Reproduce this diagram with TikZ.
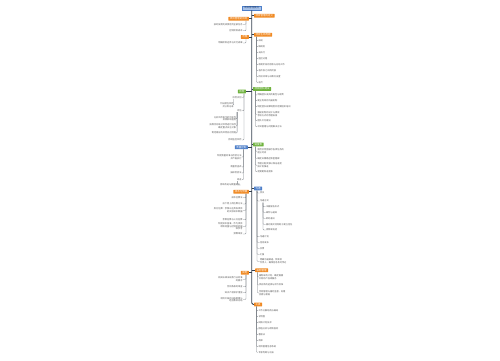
\documentclass[tikz,border=0pt]{standalone}
\usepackage{fontspec}
\setmainfont{Noto Sans CJK SC}
\usepackage{xcolor}
\usepackage{tikz}
\definecolor{mmorange}{HTML}{F08A24}
\definecolor{mmgreen}{HTML}{70B33F}
\definecolor{mmblue}{HTML}{4E7FC9}
\definecolor{mmtitle}{HTML}{A8C3EA}
\definecolor{mmink}{HTML}{23406E}
\definecolor{mmstem}{HTML}{34404F}
\definecolor{mmtwig}{HTML}{7A7F86}
\definecolor{mmleaf}{HTML}{555555}
\newcommand\boxfont{\fontsize{2.5}{3}\selectfont}
\newcommand\leaffont{\fontsize{2.2}{2.5}\selectfont}

\begin{document}
\begin{tikzpicture}[x=1pt, y=-1pt,
  every node/.style={font=\leaffont, inner sep=0.3pt},
  topic/.style={fill=mmtitle, draw=mmblue, line width=0.3pt, text=mmink, font=\boxfont,
    minimum width=19pt, minimum height=4.6pt, inner sep=0.4pt},
  obox/.style={fill=mmorange, text=white, font=\boxfont, minimum height=3.8pt,
    inner xsep=1.5pt, inner ysep=0.4pt, rounded corners=0.4pt},
  gbox/.style={obox, fill=mmgreen},
  bbox/.style={obox, fill=mmblue},
  rleaf/.style={anchor=west, align=left, text=mmleaf},
  lleaf/.style={anchor=east, align=right, text=mmleaf},
  trunkline/.style={draw=mmstem, line width=0.9pt, rounded corners=1.5pt},
  limb/.style={draw=mmstem, line width=0.6pt},
  twig/.style={draw=mmtwig, line width=0.35pt, rounded corners=0.8pt}]
  \useasboundingbox (0,0) rectangle (500,360);

  % central topic and the main branches
  \node[topic] (top) at (251.7,8) {项目管理要点};
  \node[obox, anchor=west] (R1) at (254,15.7) {项目管理的定义};
  \node[obox, anchor=east] (L1) at (249,18.7) {项目管理的目标};
  \node[obox, anchor=east] (L2) at (249,37) {范围};
  \node[obox, anchor=west] (R2) at (254,34.7) {项目生命周期};
  \node[gbox, anchor=west] (R3) at (253,89) {项目团队建设};
  \node[gbox, anchor=east] (L3) at (246,91.5) {风险};
  \node[gbox, anchor=west] (R4) at (253,144.5) {进度表};
  \node[bbox, anchor=east] (L4) at (248,147.3) {质量控制};
  \node[bbox, anchor=west] (R5) at (254,188.5) {沟通};
  \node[obox, anchor=east] (L5) at (249,191.7) {成本与预算};
  \node[obox, anchor=west] (R6) at (255,270.3) {采购管理};
  \node[obox, anchor=east] (L6) at (249,272.7) {其他};
  \node[obox, anchor=west] (R7) at (254,304.5) {工具};

  \draw[trunkline] (top.south) |- (R7.west);
  \foreach \b in {R1,R2,R3,R4,R5,R6}
    \draw[limb] (top.south |- \b.west) -- (\b.west);
  \foreach \b in {L1,L2,L3,L4,L5,L6}
    \draw[limb] (top.south |- \b.east) -- (\b.east);

  % left side leaves
  \foreach \y/\t [count=\k] in {24.3/按时按质完成预定的全部任务, 30.7/控制项目成本}{
    \node[lleaf] (L1-\k) at (243,\y) {\t};
    \draw[twig] ([xshift=-3pt]L1.south east) |- (L1-\k.east);
  }
  \node[lleaf] (L2-1) at (243,43) {明确项目边界与交付成果};
  \draw[twig] ([xshift=-3pt]L2.south east) |- (L2-1.east);

  \foreach \y/\t [count=\k] in {97.3/风险识别, 110.7/评估, 140/持续监控风险}{
    \node[lleaf] (L3-\k) at (242,\y) {\t};
    \draw[twig] ([xshift=-2pt]L3.south east) |- (L3-\k.east);
  }
  \node[lleaf] (L3-1-1) at (234,105) {列出潜在风险\\并分类记录};
  \draw[twig] ([xshift=1pt]L3-1.south west) |- (L3-1-1.east);
  \foreach \y/\t [count=\k] in {118.8/{分析风险发生的可能性\\及其影响程度},
      126/{按照优先级对风险进行排序\\确定重点关注对象}, 133/制定相应的风险应对措施}{
    \node[lleaf] (L3-2-\k) at (236.5,\y) {\t};
    \draw[twig] ([xshift=0.5pt]L3-2.south west) |- (L3-2-\k.east);
  }

  \foreach \y/\t [count=\k] in {157/{制定质量标准与检验方法\\并严格执行}, 167/质量检查表,
      173/抽样检验法, 179.7/改进}{
    \node[lleaf] (L4-\k) at (242,\y) {\t};
    \draw[twig] ([xshift=-4.5pt]L4.south east) |- (L4-\k.east);
  }
  \node[lleaf] (L4-4-1) at (240.5,185) {持续改进与质量提升};
  \draw[twig] ([xshift=1pt]L4-4.south west) |- (L4-4-1.east);

  \foreach \y/\t [count=\k] in {197.7/成本估算法, 204/自下而上的估算方法,
      210.3/{类比估算：参照以往类似项目\\的实际成本数据}, 219.7/参数估算与三点估算,
      226.5/{制定成本基准，作为项目\\绩效测量与控制的依据\\和参考}, 234/预算审批}{
    \node[lleaf] (L5-\k) at (243,\y) {\t};
    \draw[twig] ([xshift=-3pt]L5.south east) |- (L5-\k.east);
  }

  \foreach \y/\t [count=\k] in {279.3/{相关法律法规及行业标准\\的要求}, 286.7/合同条款的审查,
      292.7/知识产权保护措施, 299.5/{项目文档的归档管理与\\经验教训总结}}{
    \node[lleaf] (L6-\k) at (243,\y) {\t};
    \draw[twig] ([xshift=-3pt]L6.south east) |- (L6-\k.east);
  }

  % right side leaves
  \foreach \y/\t [count=\k] in {40.7/启动, 46.7/做规划, 52.7/去执行, 58.7/监控过程,
      64.7/收尾阶段的验收与总结工作, 70.7/各阶段之间的衔接, 76.7/阶段评审与决策点设置, 82.5/迭代}{
    \node[rleaf] (R2-\k) at (258,\y) {\t};
    \draw[twig] ([xshift=2.5pt]R2.south west) |- (R2-\k.west);
  }

  \foreach \y/\t [count=\k] in {95/明确团队成员的角色与职责, 100.7/建立有效的沟通机制,
      106.7/制定团队规章制度并定期组织培训, 114.3/{激励机制的设计与绩效\\考核方式的合理安排},
      120.7/团队文化建设, 126.7/冲突管理与问题解决方法}{
    \node[rleaf] (R3-\k) at (257,\y) {\t};
    \draw[twig] ([xshift=2.5pt]R3.south west) |- (R3-\k.west);
  }

  \foreach \y/\t [count=\k] in {151.2/{使用甘特图展示各项任务的\\起止时间}, 158.3/确定关键路径和里程碑,
      165.2/{合理分配资源以保证进度\\按计划推进}, 171.7/定期更新进度表}{
    \node[rleaf] (R4-\k) at (257,\y) {\t};
    \draw[twig] ([xshift=2.5pt]R4.south west) |- (R4-\k.west);
  }

  \foreach \y/\t [count=\k] in {193/会议, 201/沟通方式, 236.7/沟通计划, 242.3/信息发布,
      248.3/反馈, 254.3/汇报, 261.3/{明确沟通渠道、频率及\\负责人，确保信息及时传达}}{
    \node[rleaf] (R5-\k) at (259.5,\y) {\t};
    \draw[twig] ([xshift=3pt]R5.south west) |- (R5-\k.west);
  }
  \foreach \y/\t [count=\k] in {206.7/书面报告形式, 212.3/邮件与通知, 218.3/即时通讯,
      224.3/面对面交流有助于建立信任, 230/视频或电话}{
    \node[rleaf] (R5-2-\k) at (265.5,\y) {\t};
    \draw[twig] ([xshift=3.5pt]R5-2.south west) |- (R5-2-\k.west);
  }

  \foreach \y/\t [count=\k] in {277/{编制采购计划，确定需要\\外购的产品或服务}, 285/供应商的选择与评价标准,
      293/{合同管理与履约监督，处理\\变更与索赔}}{
    \node[rleaf] (R6-\k) at (258.5,\y) {\t};
    \draw[twig] ([xshift=2.5pt]R6.south west) |- (R6-\k.west);
  }

  \foreach \y/\t [count=\k] in {310.7/工作分解结构与编码, 316.7/甘特图, 322.7/网络计划技术,
      329/挣值分析与绩效指标, 334.7/看板法, 340.7/清单, 346.7/项目管理信息系统, 352.3/专家判断与访谈}{
    \node[rleaf] (R7-\k) at (258,\y) {\t};
    \draw[twig] ([xshift=2.5pt]R7.south west) |- (R7-\k.west);
  }
\end{tikzpicture}
\end{document}
